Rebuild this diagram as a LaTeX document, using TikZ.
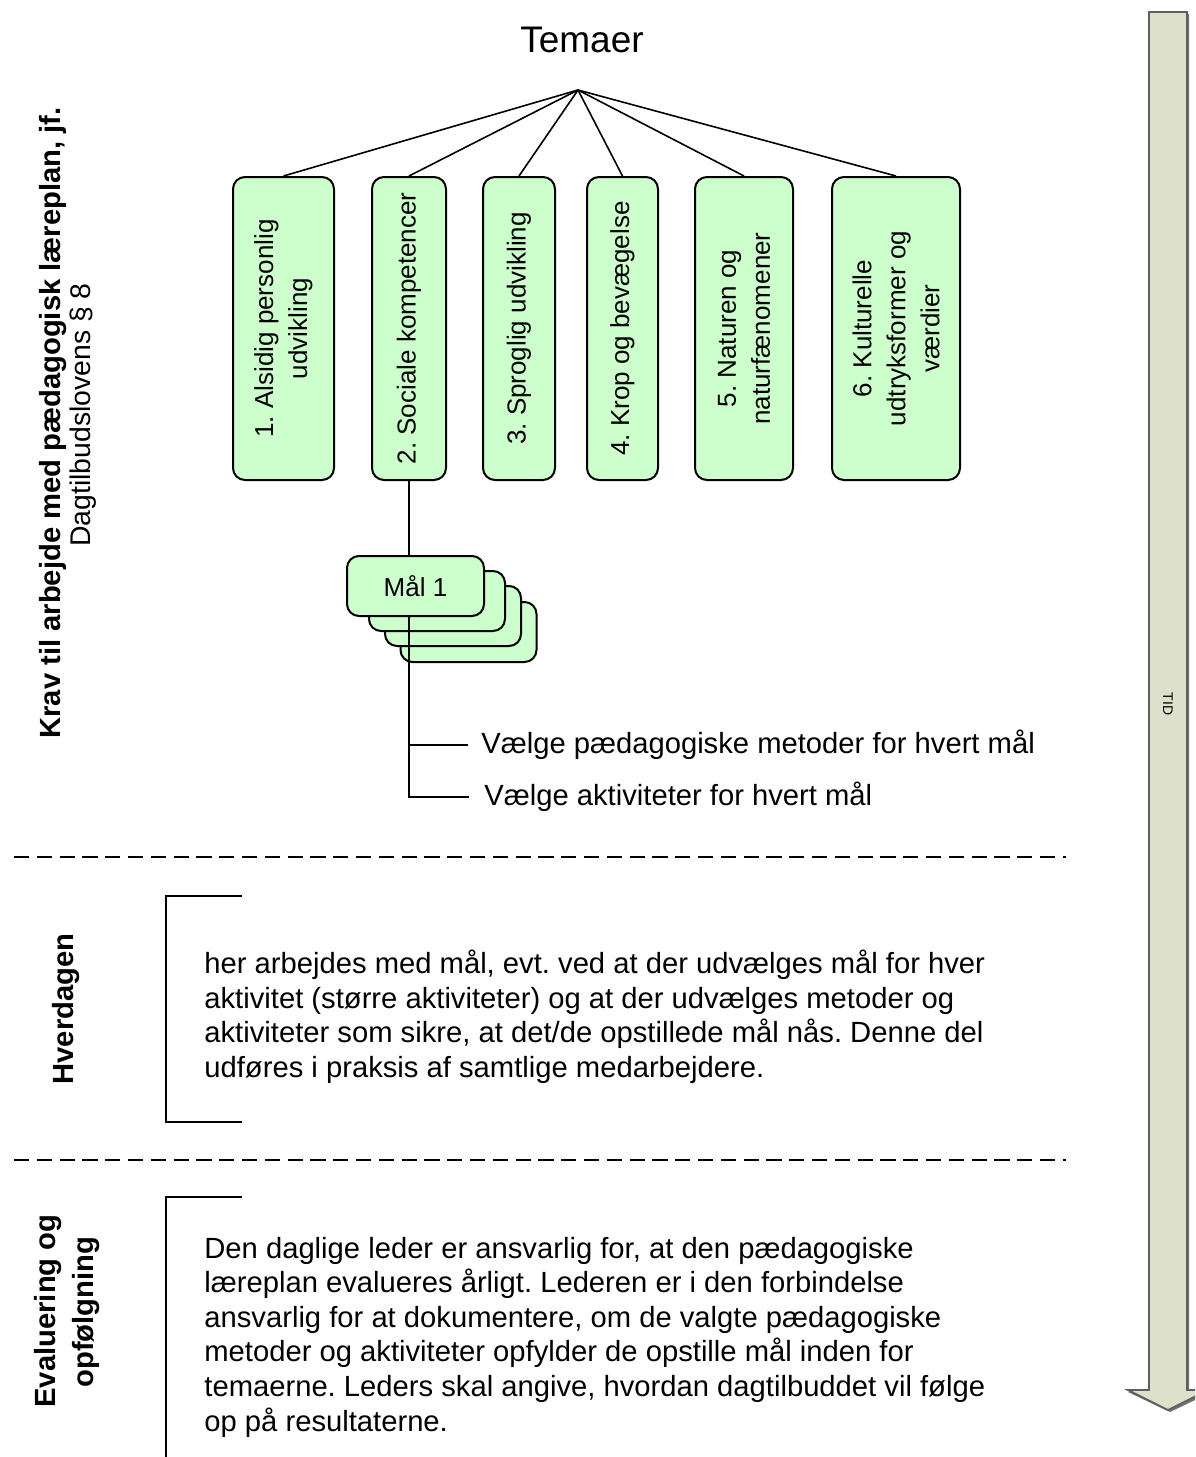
\documentclass[tikz,border=0pt]{standalone}
\usepackage{fontspec}
\setmainfont{Liberation Sans}
\usetikzlibrary{calc}
\frenchspacing
\definecolor{boxgreen}{HTML}{CCFFCC}
\definecolor{arrowfill}{RGB}{221,224,202}
\definecolor{arrowdraw}{RGB}{95,95,95}
\tikzset{
  gbox/.style={draw=black, fill=boxgreen, line width=1pt, rounded corners=6pt, inner sep=0pt},
  btext/.style={rotate=90, align=center, font=\fontsize{13}{17}\selectfont, inner sep=0pt},
  conn/.style={draw=black, line width=0.8pt},
  body/.style={font=\fontsize{14.6}{17.3}\selectfont, inner sep=0pt},
  lbold/.style={font=\fontsize{14.6}{17}\selectfont\bfseries, inner sep=0pt, rotate=90, anchor=base},
  lreg/.style={font=\fontsize{14.2}{17}\selectfont, inner sep=0pt, rotate=90, anchor=base},
  sep/.style={draw=black, line width=1pt, dash pattern=on 7.6pt off 3.8pt},
  brack/.style={draw=black, line width=0.9pt},
}
\begin{document}
\begin{tikzpicture}[x=0.5pt, y=-0.5pt]
\useasboundingbox (0,0) rectangle (1195,1457);
\clip (0,0) rectangle (1195,1457);

% time arrow
\draw[fill=black!55, draw=none] (1151,14) -- (1189,14) -- (1189,1392) -- (1212,1392) -- (1170,1412) -- (1128,1392) -- (1151,1392) -- cycle;
\draw[fill=arrowfill, draw=arrowdraw, line width=0.9pt] (1149,12) -- (1187,12) -- (1187,1390) -- (1208,1390) -- (1168,1410) -- (1128,1390) -- (1149,1390) -- cycle;
\node[font=\fontsize{7}{8}\selectfont, rotate=-90, inner sep=0pt] (tid) at (1168,704) {TID};

% title
\node[font=\fontsize{18.5}{22}\selectfont, anchor=base, inner sep=0pt] (temaer) at (582,52) {Temaer};
\coordinate (apex) at (578,90);

% theme boxes
\node[gbox, minimum width=50.5pt, minimum height=151.5pt] (b1) at (283.5,328.5) {};
\node[gbox, minimum width=37pt, minimum height=151.5pt] (b2) at (409,328.5) {};
\node[gbox, minimum width=36pt, minimum height=151.5pt] (b3) at (519,328.5) {};
\node[gbox, minimum width=35.5pt, minimum height=151.5pt] (b4) at (622.5,328.5) {};
\node[gbox, minimum width=49pt, minimum height=151.5pt] (b5) at (744,328.5) {};
\node[gbox, minimum width=64pt, minimum height=151.5pt] (b6) at (896,328.5) {};
\node[btext] (l1) at (b1) {1. Alsidig personlig\\udvikling};
\node[btext] (l2) at (b2) {2. Sociale kompetencer};
\node[btext] (l3) at (b3) {3. Sproglig udvikling};
\node[btext] (l4) at (b4) {4. Krop og bevægelse};
\node[btext] (l5) at (b5) {5. Naturen og\\naturfænomener};
\node[btext] (l6) at (b6) {6. Kulturelle\\udtryksformer og\\værdier};
\foreach \b in {b1,b2,b3,b4,b5,b6} \draw[conn] (apex) -- (\b.north);

% goal stack
\node[gbox, minimum width=68pt, minimum height=30pt] (m3) at (468.5,632) {};
\node[gbox, minimum width=68pt, minimum height=30pt] (m2) at (453,616) {};
\node[gbox, minimum width=68pt, minimum height=30pt] (m1) at (437,601) {};

\node[body, anchor=west] (t1) at (481,745) {Vælge pædagogiske metoder for hvert mål};
\node[body, anchor=west] (t2) at (484,797) {Vælge aktiviteter for hvert mål};
\draw[conn] (b2.south) -- (b2.south |- t2.west) -- ($(t2.west)+(-15,0)$);
\draw[conn] (b2.south |- t1.west) -- ($(t1.west)+(-13,0)$);

\node[gbox, minimum width=68.5pt, minimum height=30pt, font=\fontsize{13}{15}\selectfont] (m0) at (415.5,586) {Mål 1};

% left labels
\node[lbold] (krav) at (60,423) {Krav til arbejde med pædagogisk læreplan, jf.};
\node[lreg] (lov) at (90,415) {Dagtilbudslovens § 8};
\node[lbold] (hv) at (73.5,1009) {Hverdagen};
\node[lbold] (ev1) at (55,1311) {Evaluering og};
\node[lbold] (ev2) at (93,1312) {opfølgning};

% separators
\draw[sep] (14,857) -- (1066,857);
\draw[sep] (14,1160) -- (1066,1160);

% brackets
\draw[brack] (242,896) -- (166,896) -- (166,1122) -- (242,1122);
\draw[brack] (242,1197) -- (166,1197) -- (166,1470);

% paragraphs (base anchor = baseline of last line)
\node[body, anchor=base west, align=left] (p1) at (204,1077.5) {her arbejdes med mål, evt. ved at der udvælges mål for hver\\aktivitet (større aktiviteter) og at der udvælges metoder og\\aktiviteter som sikre, at det/de opstillede mål nås. Denne del\\udføres i praksis af samtlige medarbejdere.};
\node[body, anchor=base west, align=left] (p2) at (204,1431) {Den daglige leder er ansvarlig for, at den pædagogiske\\læreplan evalueres årligt. Lederen er i den forbindelse\\ansvarlig for at dokumentere, om de valgte pædagogiske\\metoder og aktiviteter opfylder de opstille mål inden for\\temaerne. Leders skal angive, hvordan dagtilbuddet vil følge\\op på resultaterne.};
\end{tikzpicture}
\end{document}
